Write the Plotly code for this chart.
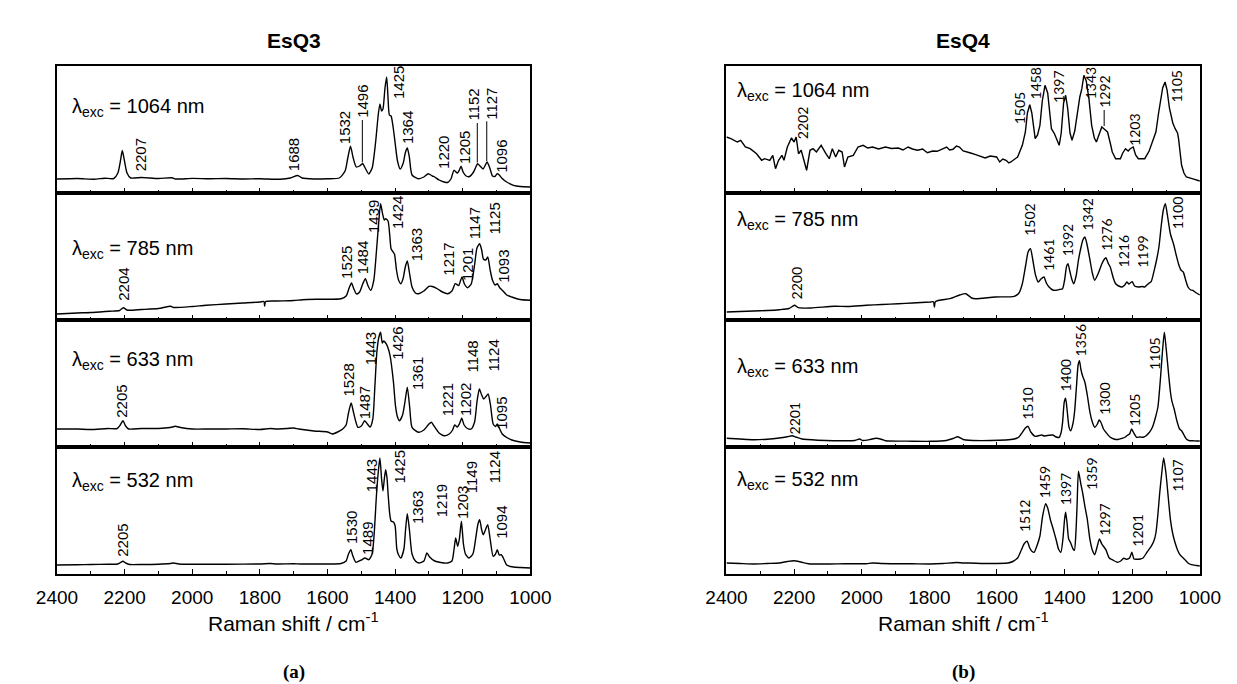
import plotly.graph_objects as go

W, H = 1237, 684

# ---------------- data: Raman spectra (shift in cm-1, intensity a.u.) ----------------
esq3_1064_x = [2400, 2340, 2290, 2260, 2232, 2220, 2212, 2207, 2201, 2193, 2182, 2150, 2100, 2060, 2050, 2000,
               1950, 1900, 1850, 1800, 1740, 1710, 1688, 1675, 1640, 1600, 1565, 1548, 1540, 1532, 1524, 1515,
               1505, 1496, 1487, 1478, 1468, 1458, 1450, 1445, 1440, 1436, 1430, 1425, 1421, 1417, 1412, 1406,
               1400, 1393, 1385, 1376, 1370, 1364, 1358, 1350, 1331, 1315, 1302, 1290, 1283, 1270, 1255, 1245,
               1235, 1226, 1216, 1210, 1205, 1199, 1190, 1180, 1168, 1160, 1156, 1146, 1140, 1133, 1128, 1120,
               1112, 1105, 1098, 1092, 1085, 1070, 1050, 1030, 1000]
esq3_1064_y = [14, 14.5, 13.8, 14.8, 14.5, 20, 33, 42.5, 33, 20, 15, 15.5, 14.5, 15.2, 14, 14.6,
               14.2, 14.5, 14, 14.3, 13.8, 15, 17.5, 15, 14, 14.2, 15, 22, 35, 46.7, 35, 26,
               27, 29.3, 24, 19, 25, 50, 78, 89, 82, 84, 105, 116, 95, 78, 77, 66,
               50, 32, 24, 30, 40, 45, 36, 18, 14.3, 16, 19.3, 17, 16, 13, 11, 10.5,
               14, 22.7, 20, 23, 26.7, 21, 17, 16.5, 21, 27, 29.3, 26, 24, 28, 31, 25,
               17, 16.5, 19.3, 18, 15, 11, 7.7, 6.5, 6]

esq3_785_x = [2400, 2340, 2300, 2245, 2215, 2204, 2192, 2150, 2100, 2064, 2055, 2000, 1959, 1900, 1850, 1800,
              1788, 1786, 1783, 1750, 1700, 1674, 1620, 1560, 1545, 1536, 1529, 1522, 1514, 1505, 1496, 1488,
              1480, 1472, 1463, 1455, 1448, 1443, 1437, 1432, 1428, 1421, 1416, 1412, 1406, 1402, 1396, 1390,
              1383, 1376, 1370, 1364, 1358, 1350, 1340, 1331, 1315, 1300, 1290, 1274, 1260, 1245, 1232, 1222,
              1212, 1206, 1202, 1195, 1186, 1175, 1165, 1158, 1150, 1144, 1139, 1132, 1126, 1119, 1112, 1104,
              1098, 1090, 1083, 1070, 1055, 1030, 1000]
esq3_785_y = [6, 7, 7.5, 8.8, 9.5, 12.3, 9.8, 10.5, 11.5, 13.7, 12.5, 13.5, 14.8, 16, 17, 18,
              18.5, 14, 18.5, 19, 19.5, 20.3, 20.8, 21.3, 24, 32, 37, 31, 26, 28, 36, 41.3,
              34, 29.7, 40, 70, 100, 116.3, 106, 100, 101.3, 99, 85, 71.3, 68, 66, 50, 40,
              36.3, 42, 53, 59, 48, 33, 27, 26.3, 29, 33.7, 33.5, 31, 28, 26.3, 29, 36.3,
              34.5, 40, 43, 36, 32.3, 36, 55, 72, 76.3, 70, 61, 60, 63, 50, 39.7, 35,
              36.3, 32, 29.7, 25, 23, 20.5, 19.7]

esq3_633_x = [2400, 2340, 2300, 2250, 2222, 2213, 2205, 2197, 2188, 2150, 2100, 2065, 2050, 2035, 2000, 1950,
              1900, 1850, 1800, 1770, 1750, 1720, 1700, 1685, 1640, 1600, 1586, 1570, 1555, 1545, 1538, 1530,
              1524, 1516, 1510, 1500, 1490, 1482, 1474, 1466, 1460, 1454, 1448, 1443, 1438, 1434, 1428, 1422,
              1415, 1405, 1399, 1393, 1387, 1378, 1371, 1364, 1357, 1350, 1331, 1315, 1300, 1293, 1285, 1270,
              1255, 1240, 1230, 1224, 1216, 1210, 1203, 1196, 1186, 1175, 1165, 1158, 1151, 1144, 1138, 1130,
              1125, 1118, 1110, 1103, 1098, 1092, 1083, 1070, 1055, 1030, 1000]
esq3_633_y = [18, 18, 17.5, 18.5, 18.5, 22, 26.3, 21, 18, 18.5, 18.5, 19.5, 20.7, 19.5, 18, 18,
              18, 18.2, 17.5, 18.5, 18, 18.5, 19, 18, 16, 15, 13, 15, 18, 22, 34, 44,
              36, 25, 19.7, 21, 26.3, 23, 20, 28, 60, 95, 110, 114.7, 104, 106, 104, 100,
              91.3, 65, 41.3, 30, 26.3, 32, 45, 59.7, 40, 19.7, 14.7, 17, 23, 24.7, 21, 14,
              11.3, 13, 17, 22, 20, 23, 28.7, 22, 18.5, 18, 25, 45, 58, 52, 48, 51,
              53, 42, 23, 20.5, 23, 19, 13, 9.5, 7, 5, 4]

esq3_532_x = [2400, 2340, 2300, 2250, 2220, 2212, 2205, 2197, 2185, 2150, 2100, 2065, 2055, 2040, 2000, 1950,
              1900, 1800, 1770, 1750, 1700, 1680, 1600, 1560, 1545, 1538, 1531, 1525, 1516, 1500, 1489, 1478,
              1468, 1462, 1455, 1449, 1445, 1440, 1436, 1432, 1428, 1424, 1421, 1416, 1412, 1405, 1400, 1395,
              1390, 1383, 1374, 1369, 1364, 1358, 1350, 1340, 1330, 1315, 1306, 1298, 1283, 1265, 1245, 1232,
              1226, 1221, 1215, 1210, 1204, 1198, 1192, 1182, 1170, 1162, 1155, 1150, 1144, 1139, 1132, 1126,
              1119, 1110, 1103, 1098, 1092, 1086, 1080, 1070, 1050, 1030, 1000]
esq3_532_y = [9, 9.3, 9.5, 9.8, 10, 11.5, 12.7, 11, 9.5, 9.5, 9.8, 10.5, 11, 10, 9.8, 9.8,
              9.8, 10, 10.5, 10, 10.3, 10, 10, 10.5, 13, 20, 24.3, 18, 11.7, 14, 16, 14.3,
              20, 40, 80, 105, 116, 95, 83, 95, 104.3, 96, 81, 60, 53, 52, 48, 25,
              19.3, 16, 25, 45, 60.3, 45, 20, 13, 11, 13, 21, 17, 13, 11.5, 11, 13,
              24, 36, 27.7, 35, 52.7, 30, 20, 16, 20, 35, 50, 54.3, 44, 39.3, 45, 49.3,
              35, 17.7, 20, 24.3, 19, 19.3, 16, 9, 7, 6.5, 6]

esq4_1064_x = [2400, 2387, 2368, 2358, 2344, 2330, 2311, 2296, 2287, 2272, 2263, 2255, 2246, 2236, 2230, 2220,
               2208, 2200, 2194, 2187, 2179, 2173, 2163, 2153, 2144, 2134, 2120, 2106, 2096, 2087, 2077, 2068,
               2058, 2051, 2041, 2025, 2011, 1996, 1982, 1968, 1950, 1930, 1912, 1892, 1878, 1863, 1850, 1835,
               1820, 1806, 1790, 1777, 1763, 1749, 1740, 1730, 1720, 1711, 1700, 1692, 1678, 1663, 1650, 1635,
               1620, 1601, 1592, 1583, 1573, 1565, 1559, 1550, 1539, 1525, 1516, 1510, 1503, 1497, 1490, 1487,
               1480, 1473, 1466, 1458, 1450, 1444, 1439, 1430, 1422, 1416, 1410, 1403, 1397, 1391, 1384, 1378,
               1370, 1362, 1355, 1349, 1343, 1336, 1328, 1320, 1312, 1306, 1297, 1290, 1283, 1273, 1265, 1259,
               1249, 1240, 1235, 1228, 1220, 1212, 1206, 1197, 1190, 1182, 1170, 1163, 1150, 1144, 1130, 1122,
               1116, 1110, 1103, 1097, 1090, 1087, 1080, 1073, 1066, 1063, 1058, 1054, 1047, 1040, 1023, 1010, 1000]
esq4_1064_y = [56, 54.3, 51, 52.7, 46, 44.3, 39.3, 32.7, 34.3, 32.7, 37.7, 24.3, 32.7, 37.7, 32.7, 46,
               55, 51, 56, 39.3, 42.7, 34.3, 22.7, 42.7, 44.3, 41, 47.7, 39.3, 34.3, 44.3, 36, 42.7,
               41, 26, 36, 37.7, 46, 47.7, 45, 46, 44, 46, 44.5, 45, 43, 46, 44, 42.7,
               44, 40.3, 42, 41.7, 44, 46, 43, 43.7, 47, 46, 42, 41, 40, 38.3, 37, 35,
               37, 36, 31, 34, 32.7, 30, 31, 33, 36, 47.7, 61, 80, 88.3, 80, 60, 54.3,
               58, 67.7, 92, 107.7, 100, 78, 64.3, 59.3, 52, 47.7, 60, 90, 97.7, 85, 60, 52.7,
               62, 80, 96, 104.3, 117.7, 112, 94.3, 67.7, 55, 51, 60, 66, 64, 61, 50, 41,
               34.3, 34, 34.3, 40, 44.3, 42, 44.3, 46, 38, 34.3, 34, 34.3, 42, 47.7, 61, 80,
               94.3, 105, 111, 103, 85, 81, 70, 64.3, 60, 54.3, 35, 27.7, 20, 16, 14.3, 13, 12]

esq4_785_x = [2400, 2360, 2320, 2280, 2244, 2215, 2199, 2187, 2150, 2082, 2040, 1987, 1940, 1892, 1850, 1797,
              1788, 1785, 1782, 1739, 1710, 1692, 1675, 1663, 1606, 1549, 1535, 1525, 1515, 1508, 1501, 1494,
              1486, 1478, 1470, 1461, 1454, 1446, 1435, 1425, 1415, 1406, 1400, 1394, 1390, 1384, 1378, 1373,
              1366, 1359, 1352, 1346, 1340, 1334, 1325, 1318, 1311, 1300, 1290, 1282, 1278, 1270, 1265, 1256,
              1249, 1240, 1230, 1222, 1216, 1210, 1206, 1200, 1193, 1182, 1170, 1163, 1150, 1144, 1135, 1128,
              1121, 1114, 1108, 1102, 1096, 1087, 1078, 1070, 1063, 1056, 1049, 1042, 1035, 1027, 1021, 1010, 1000]
esq4_785_y = [8, 8.5, 9, 9.5, 10.3, 11.5, 14.7, 12.3, 12, 13.7, 13.5, 14.7, 15.5, 16.3, 17, 18,
              18.3, 13, 18.5, 21.3, 25, 26.3, 22, 21.3, 23, 23.7, 27, 36.3, 55, 68, 71.3, 60,
              45, 38, 41, 43, 37, 33, 30, 29.7, 30.5, 31.3, 40, 54, 56.3, 48, 40, 36.3,
              44, 60, 72, 80, 83, 76, 60, 47, 39.7, 47, 56, 61, 62.3, 56, 53, 42,
              36.3, 34, 33, 35, 38, 36, 37, 38.3, 34, 33, 33.5, 33, 37, 38.3, 49.7, 60,
              73, 95, 110, 116.3, 105, 86, 76.3, 65, 56, 50, 48, 40, 33, 30, 29.7, 27, 25]

esq4_633_x = [2400, 2360, 2320, 2280, 2244, 2220, 2206, 2195, 2177, 2130, 2082, 2020, 2006, 1998, 1975, 1958,
              1940, 1930, 1850, 1797, 1750, 1730, 1716, 1700, 1692, 1620, 1549, 1535, 1525, 1516, 1508, 1500,
              1487, 1475, 1468, 1460, 1454, 1446, 1435, 1425, 1416, 1410, 1406, 1401, 1397, 1392, 1387, 1382,
              1375, 1370, 1365, 1360, 1356, 1352, 1347, 1340, 1333, 1325, 1318, 1311, 1303, 1298, 1293, 1285,
              1278, 1266, 1254, 1242, 1230, 1220, 1216, 1208, 1202, 1197, 1187, 1178, 1168, 1160, 1149, 1140,
              1130, 1124, 1119, 1114, 1110, 1105, 1100, 1092, 1087, 1083, 1076, 1068, 1060, 1054, 1047, 1040,
              1030, 1021, 1010, 1000]
esq4_633_y = [8.7, 8, 7.3, 7.8, 9, 10.3, 11.3, 10, 8, 6.8, 6.3, 6.5, 8, 6.5, 7.5, 8.7,
              7.5, 6.3, 5.8, 5.7, 6.5, 8.5, 10.3, 7.5, 7, 6.5, 8, 10, 14.7, 19, 20.7, 15,
              10.7, 11.5, 12, 11, 11.3, 11.7, 12, 10, 9.7, 15, 24.7, 45, 48.7, 35, 20, 16.3,
              24, 37, 60, 82, 86.3, 78, 71.3, 64.7, 52, 34.7, 25, 19.7, 23, 27, 25, 18,
              14.7, 10, 8, 7.5, 8.7, 10, 11.3, 13, 18, 15, 9.7, 10, 9.7, 11, 14.7, 20,
              31.3, 40, 58, 80, 98, 114.7, 100, 71.3, 55, 46.3, 38, 26.3, 18, 16.3, 12, 8,
              6.3, 6.3, 6, 6]

esq4_532_x = [2400, 2360, 2320, 2280, 2244, 2220, 2201, 2180, 2158, 2100, 2050, 1987, 1968, 1940, 1900, 1850,
              1797, 1760, 1720, 1700, 1682, 1620, 1568, 1553, 1539, 1528, 1520, 1511, 1503, 1496, 1490, 1482,
              1473, 1465, 1456, 1450, 1442, 1433, 1425, 1418, 1411, 1405, 1400, 1397, 1393, 1388, 1382, 1375,
              1371, 1366, 1363, 1359, 1352, 1346, 1340, 1333, 1325, 1318, 1311, 1304, 1297, 1290, 1278, 1268,
              1259, 1244, 1234, 1225, 1216, 1208, 1201, 1195, 1187, 1176, 1168, 1156, 1144, 1136, 1130, 1124,
              1119, 1113, 1107, 1100, 1093, 1087, 1080, 1073, 1066, 1059, 1052, 1044, 1035, 1025, 1010, 1000]
esq4_532_y = [11, 10.5, 10, 10.5, 11, 12.5, 13.3, 12, 10.3, 10, 10.3, 10.3, 11, 10.5, 10.3, 10.2,
              10, 10.5, 11.5, 11, 11, 10.5, 11, 12.5, 16, 24, 30, 32.7, 26, 22.5, 21.7, 28,
              38, 58, 70.3, 66, 54.3, 44, 34.3, 25, 21.7, 35, 55, 61.7, 52, 35, 31, 25,
              23.7, 45, 70, 102.7, 90, 80, 67.7, 55, 34.3, 24, 19.3, 27, 35, 30, 24.3, 16,
              14.3, 11.7, 13, 15.7, 14.7, 16, 21.7, 15, 14.7, 15, 16, 22, 27.7, 33, 41, 60,
              80, 100, 116, 100, 75, 54.3, 40, 31, 24, 19.3, 17, 14.3, 11, 9.3, 8.5, 8]

# peak labels (text) for each spectrum
esq3_1064_peaks = ["2207", "1688", "1532", "1496", "1425", "1364", "1220", "1205", "1152", "1127", "1096"]
esq3_785_peaks = ["2204", "1525", "1484", "1439", "1424", "1363", "1217", "1201", "1147", "1125", "1093"]
esq3_633_peaks = ["2205", "1528", "1487", "1443", "1426", "1361", "1221", "1202", "1148", "1124", "1095"]
esq3_532_peaks = ["2205", "1530", "1489", "1443", "1425", "1363", "1219", "1203", "1149", "1124", "1094"]
esq4_1064_peaks = ["2202", "1505", "1458", "1397", "1343", "1292", "1203", "1105"]
esq4_785_peaks = ["2200", "1502", "1461", "1392", "1342", "1276", "1216", "1199", "1100"]
esq4_633_peaks = ["2201", "1510", "1400", "1356", "1300", "1205", "1105"]
esq4_532_peaks = ["1512", "1459", "1397", "1359", "1297", "1201", "1107"]

excitations = ["1064", "785", "633", "532"]
compounds = ["EsQ3", "EsQ4"]
panel_letters = ["(a)", "(b)"]
tick_vals = [2400, 2200, 2000, 1800, 1600, 1400, 1200, 1000]

# ---------------- layout helpers (positions / styles) ----------------
# label anchor positions: (x centre in cm-1, bottom of rotated text in intensity units)
esq3_1064_lpos = [(2152, 21), (1700, 21), (1550, 47.7), (1497, 74), (1388, 92.7), (1364, 47.7),
                  (1255, 22.7), (1193, 27.7), (1168, 71), (1115, 72.7), (1085, 19.3)]
esq3_785_lpos = [(2204, 18), (1542, 39.7), (1497, 44.7), (1466, 86.3), (1391, 89.7), (1336, 58),
                 (1243, 43), (1186, 38), (1167, 79.7), (1107, 84.7), (1079, 36.3)]
esq3_633_lpos = [(2210, 28), (1537, 49.7), (1490, 27), (1472, 81), (1393, 86.3), (1336, 56.3),
                 (1245, 29.7), (1190, 29.7), (1174, 73), (1110, 74.7), (1085, 16.3)]
esq3_532_lpos = [(2207, 16), (1531, 29.3), (1480, 17.7), (1469, 81), (1388, 89.3), (1336, 49.3),
                 (1262, 56), (1203, 54.3), (1174, 79.3), (1106, 89.3), (1085, 34.3)]
esq4_1064_lpos = [(2177, 52.7), (1535, 67.7), (1487, 92.7), (1416, 89.3), (1321, 93), (1281, 84),
                  (1192, 46), (1068, 89.3)]
esq4_785_lpos = [(2194, 19.7), (1506, 83), (1449, 48), (1392, 63), (1335, 88), (1278, 68),
                 (1225, 51.3), (1168, 51.3), (1068, 89.7)]
esq4_633_lpos = [(2198, 11.3), (1508, 26.3), (1398, 54.7), (1354, 89.7), (1280, 31.3), (1195, 19.7),
                 (1135, 76.3)]
esq4_532_lpos = [(1520, 41), (1459, 74.3), (1399, 67.7), (1320, 82.7), (1282, 37.7), (1187, 26),
                 (1068, 81)]

# leader lines: (panel index, x, y_from, y_to)
leaders = [(0, 1497, 30.5, 73), (0, 1157, 30.5, 70), (0, 1129, 32, 71.7), (4, 1283, 67, 83)]

spectra = [(esq3_1064_x, esq3_1064_y), (esq3_785_x, esq3_785_y), (esq3_633_x, esq3_633_y), (esq3_532_x, esq3_532_y),
           (esq4_1064_x, esq4_1064_y), (esq4_785_x, esq4_785_y), (esq4_633_x, esq4_633_y), (esq4_532_x, esq4_532_y)]
peak_texts = [esq3_1064_peaks, esq3_785_peaks, esq3_633_peaks, esq3_532_peaks,
              esq4_1064_peaks, esq4_785_peaks, esq4_633_peaks, esq4_532_peaks]
peak_pos = [esq3_1064_lpos, esq3_785_lpos, esq3_633_lpos, esq3_532_lpos,
            esq4_1064_lpos, esq4_785_lpos, esq4_633_lpos, esq4_532_lpos]

col_px = [(29, 519), (722, 1212)]
row_px = [(58, 185), (185, 312), (312, 439), (439, 566)]
lam_ypx = [[100, 241, 352, 473], [84, 213, 359, 472]]
lam_xfrac = [0.027, 0.018]
label_font = ["Liberation Sans, Arial, sans-serif", "Lato, sans-serif"]
label_size = [15, 14]

fig = go.Figure()
annotations = []
shapes = []
layout = dict(width=W, height=H, margin=dict(l=0, r=0, t=0, b=0),
              paper_bgcolor="white", plot_bgcolor="white", showlegend=False)

for k in range(8):
    col, row = k // 4, k % 4
    n = k + 1
    xs = "" if n == 1 else str(n)
    x0, x1 = col_px[col]
    y0, y1 = row_px[row]
    xdom = [x0 / W, x1 / W]
    ydom = [1 - y1 / H, 1 - y0 / H]
    sx, sy = spectra[k]
    fig.add_trace(go.Scatter(x=sx, y=sy, mode="lines", xaxis="x" + xs, yaxis="y" + xs,
                             line=dict(color="black", width=1.4,
                                       shape="linear" if k == 4 else "spline",
                                       smoothing=0.6 if k != 4 else None),
                             hoverinfo="skip"))
    layout["xaxis" + xs] = dict(domain=xdom, anchor="y" + xs, range=[2400, 1000],
                                showline=True, mirror=True, linecolor="black", linewidth=1.5,
                                ticks="inside", ticklen=5, tickwidth=1, tickcolor="black",
                                tickvals=tick_vals, showticklabels=(row == 3),
                                tickfont=dict(family="Liberation Sans, Arial, sans-serif", size=19, color="black"),
                                ticklabelstandoff=5,
                                minor=dict(ticks="inside", ticklen=3, dtick=100, tick0=0, tickcolor="black"),
                                showgrid=False, zeroline=False, fixedrange=True)
    layout["yaxis" + xs] = dict(domain=ydom, anchor="x" + xs, range=[0, 127],
                                showline=True, mirror=True, linecolor="black", linewidth=1.5,
                                showticklabels=False, ticks="", showgrid=False, zeroline=False,
                                fixedrange=True)
    # lambda label
    annotations.append(dict(xref="x" + xs + " domain", yref="paper", x=lam_xfrac[col],
                            y=1 - lam_ypx[col][row] / H, xanchor="left", yanchor="middle",
                            text="λ<sub>exc</sub> = %s nm" % excitations[row], showarrow=False,
                            font=dict(family="Liberation Sans, Arial, sans-serif", size=20, color="black")))
    # peak labels
    for txt, (px, py) in zip(peak_texts[k], peak_pos[k]):
        annotations.append(dict(xref="x" + xs, yref="y" + xs, x=px, y=py, text=txt,
                                textangle=-90, xanchor="center", yanchor="bottom", showarrow=False,
                                borderpad=0,
                                font=dict(family=label_font[col], size=label_size[col], color="black")))

for (k, lx, ly0, ly1) in leaders:
    xs = "" if k == 0 else str(k + 1)
    shapes.append(dict(type="line", xref="x" + xs, yref="y" + xs, x0=lx, x1=lx, y0=ly0, y1=ly1,
                       line=dict(color="black", width=1)))

for col in range(2):
    x0, x1 = col_px[col]
    cx = (x0 + x1) / 2 / W
    annotations.append(dict(xref="paper", yref="paper", x=cx, y=1 - 32 / H, text="<b>%s</b>" % compounds[col],
                            showarrow=False, xanchor="center", yanchor="middle",
                            font=dict(family="Liberation Sans, Arial, sans-serif", size=21, color="black")))
    annotations.append(dict(xref="paper", yref="paper", x=cx, y=1 - 614 / H,
                            text="Raman shift / cm<sup>-1</sup>",
                            showarrow=False, xanchor="center", yanchor="middle",
                            font=dict(family="Liberation Sans, Arial, sans-serif", size=21, color="black")))
    annotations.append(dict(xref="paper", yref="paper", x=cx, y=1 - 664 / H,
                            text="<b>%s</b>" % panel_letters[col],
                            showarrow=False, xanchor="center", yanchor="middle", borderpad=0,
                            font=dict(family="Liberation Serif, serif", size=19, color="black")))

layout["annotations"] = annotations
layout["shapes"] = shapes
fig.update_layout(**layout)
fig.write_html("out.html")
